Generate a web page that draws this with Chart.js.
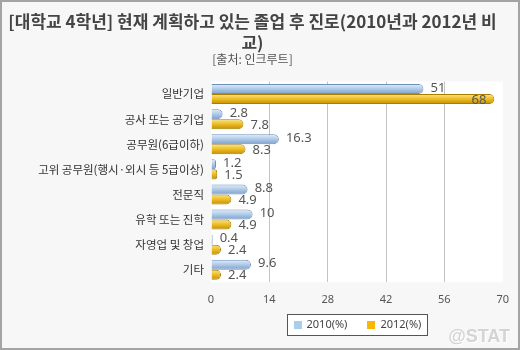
<!DOCTYPE html>
<html>
<head>
<meta charset="utf-8">
<script src="https://cdn.jsdelivr.net/npm/chart.js@4.4.1/dist/chart.umd.min.js"></script>
<style>
  body { margin: 0; background: #f7f7f7; }
  canvas { display: block; }
</style>
</head>
<body>
<canvas id="myChart" width="520" height="350"></canvas>
<script>
'use strict';
let categories = ['일반기업', '공사 또는 공기업', '공무원(6급이하)', '고위 공무원(행시·외시 등 5급이상)',
  '전문직', '유학 또는 진학', '자영업 및 창업', '기타'];
let values2010 = [51, 2.8, 16.3, 1.2, 8.8, 10, 0.4, 9.6];
let values2012 = [68, 7.8, 8.3, 1.5, 4.9, 4.9, 2.4, 2.4];
let seriesNames = ['2010(%)', '2012(%)'];
let tickMin = 0;
let tickMax = 70;
let tickStep = 14;

let catPct = 0.8;
let blueStops = [[0, '#e2eefa'], [0.45, '#b3cdea'], [1, '#7c9fca']];
let goldStops = [[0, '#fbe48a'], [0.45, '#efc02a'], [1, '#c28e00']];

// gradient for one bar, worked out from the category scale
function barFill(ctx, stops, solid) {
    let chart = ctx.chart;
    let ys = chart.scales.y;
    if (!ys || !chart.chartArea) return solid;
    let row = ys.getPixelForValue(ctx.dataIndex);
    let step = Math.abs(ys.getPixelForValue(1) - ys.getPixelForValue(0));
    let th = step * catPct / 2;
    let top = ctx.datasetIndex === 0 ? row - th : row;
    let g = chart.ctx.createLinearGradient(0, top, 0, top + th);
    stops.forEach(s => g.addColorStop(s[0], s[1]));
    return g;
}

let bgPlugin = {
    id: 'bg',
    beforeDraw(chart) {
        let c = chart.ctx;
        let a = chart.chartArea;
        c.save();
        c.fillStyle = '#f7f7f7';
        c.fillRect(0, 0, chart.width, chart.height);
        c.fillStyle = '#ffffff';
        c.fillRect(a.left, a.top, a.right - a.left, a.bottom - a.top);
        c.restore();
    },
    afterDraw(chart) {
        let c = chart.ctx;
        c.save();
        c.strokeStyle = '#a4a4a4';
        c.lineWidth = 2;
        c.strokeRect(1, 1, chart.width - 2, chart.height - 2);
        c.restore();
    }
};

let labelPlugin = {
    id: 'valueLabels',
    afterDatasetsDraw(chart) {
        let c = chart.ctx;
        let a = chart.chartArea;
        c.save();
        c.font = '13px "Noto Sans", sans-serif';
        c.fillStyle = '#555555';
        c.textBaseline = 'middle';
        chart.data.datasets.forEach((ds, di) => {
            let meta = chart.getDatasetMeta(di);
            meta.data.forEach((el, i) => {
                let txt = String(ds.data[i]);
                let w = c.measureText(txt).width;
                let x = el.x + 7;
                if (x + w > a.right) x = el.x - 8 - w;
                c.fillText(txt, x, el.y - (di === 0 ? 1 : -1));
            });
        });
        c.restore();
    }
};

// legend box centered under the plot, plus the watermark
let legendPlugin = {
    id: 'boxLegend',
    afterDraw(chart) {
        let c = chart.ctx;
        let a = chart.chartArea;
        let sw = ['#aacdee', '#f8b800'];
        c.save();
        c.font = '11px "Noto Sans", sans-serif';
        let widths = seriesNames.map(n => c.measureText(n).width);
        let total = 8 + 5 + widths[0] + 20 + 8 + 5 + widths[1];
        let boxW = Math.round(total + 12);
        let cx = (a.left + a.right) / 2;
        let bx = Math.round(cx - boxW / 2) + 0.5;
        c.fillStyle = '#ffffff';
        c.fillRect(bx, 314.5, boxW, 21);
        c.strokeStyle = '#555555';
        c.lineWidth = 1;
        c.strokeRect(bx, 314.5, boxW, 21);
        let x = bx + 6;
        c.textBaseline = 'middle';
        for (let i = 0; i < seriesNames.length; i++) {
            c.fillStyle = sw[i];
            c.fillRect(Math.round(x), 321, 8, 8);
            c.fillStyle = '#444444';
            c.fillText(seriesNames[i], x + 13, 325);
            x += 13 + widths[i] + 20;
        }
        c.font = 'bold 18px "Liberation Sans", sans-serif';
        c.textAlign = 'right';
        c.fillStyle = '#ffffff';
        c.fillText('@STAT', 511, 338);
        c.fillStyle = '#d4d4d4';
        c.fillText('@STAT', 510, 337);
        c.restore();
    }
};

let ctx = document.getElementById('myChart').getContext('2d');
let myChart = new Chart(ctx, {
    type: 'bar',
    data: {
        labels: categories,
        datasets: [{
            label: seriesNames[0],
            data: values2010,
            backgroundColor: (c) => barFill(c, blueStops, '#b3cdea'),
            borderColor: '#6f90b8',
            borderWidth: 1,
            borderSkipped: 'left',
            borderRadius: { topRight: 5, bottomRight: 5 }
        }, {
            label: seriesNames[1],
            data: values2012,
            backgroundColor: (c) => barFill(c, goldStops, '#efc02a'),
            borderColor: '#a97d00',
            borderWidth: 1,
            borderSkipped: 'left',
            borderRadius: { topRight: 5, bottomRight: 5 }
        }]
    },
    options: {
        indexAxis: 'y',
        responsive: false,
        animation: false,
        categoryPercentage: catPct,
        barPercentage: 1,
        layout: { padding: { left: 0, right: 15, bottom: 32.5 } },
        plugins: {
            legend: { display: false },
            tooltip: { enabled: false },
            title: {
                display: true,
                text: ['[대학교 4학년] 현재 계획하고 있는 졸업 후 진로(2010년과 2012년 비', '교)'],
                color: '#444444',
                font: { family: '"Noto Sans CJK KR", sans-serif', size: 17, weight: 'bold', lineHeight: 1.18 },
                padding: { top: 12, bottom: 0 }
            },
            subtitle: {
                display: true,
                text: '[출처: 인크루트]',
                color: '#555555',
                font: { family: '"Noto Sans CJK KR", sans-serif', size: 12, lineHeight: 1.2 },
                padding: { top: 0, bottom: 15 }
            }
        },
        scales: {
            x: {
                min: tickMin,
                max: tickMax,
                ticks: {
                    stepSize: tickStep,
                    color: '#555555',
                    padding: 11,
                    font: { family: '"Noto Sans", sans-serif', size: 11 }
                },
                grid: {
                    color: (c) => (c.index === 0 || c.tick.value === tickMax) ? 'rgba(0,0,0,0)' : '#c4c4c4',
                    drawTicks: false
                },
                border: { display: false }
            },
            y: {
                afterFit(scale) { scale.width = 211; },
                ticks: {
                    color: '#333333',
                    padding: 7,
                    font: { family: '"Noto Sans CJK KR", sans-serif', size: 11.5 }
                },
                grid: { display: false, drawTicks: false },
                border: { display: false }
            }
        }
    },
    plugins: [bgPlugin, labelPlugin, legendPlugin]
});
</script>
</body>
</html>
